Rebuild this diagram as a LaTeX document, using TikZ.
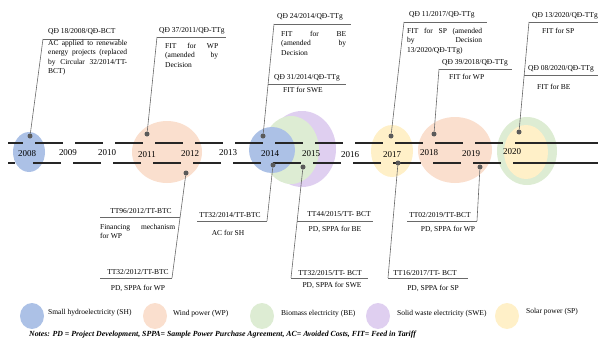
\documentclass[tikz,border=0pt]{standalone}
\usepackage{fontspec}
\setmainfont{Liberation Serif}
\usepackage{xcolor}
\usepackage{tikz}

\definecolor{shblue}{RGB}{172,193,230}
\definecolor{wporange}{RGB}{250,223,206}
\definecolor{begreen}{RGB}{221,236,211}
\definecolor{swepurple}{RGB}{223,207,240}
\definecolor{spyellow}{RGB}{255,240,200}
\definecolor{linkgray}{RGB}{105,105,105}
\definecolor{dotgray}{RGB}{90,90,90}

\tikzset{
  lawtitle/.style={font=\fontsize{7.5}{9.3}\selectfont, inner sep=0pt},
  lawbody/.style={font=\fontsize{7.5}{9.3}\selectfont, inner sep=0pt, align=justify},
  yearlabel/.style={font=\fontsize{9}{10}\selectfont, inner sep=0pt},
  lawrule/.style={draw=linkgray, line width=0.6pt},
  link/.style={draw=linkgray, line width=0.6pt},
  eventdot/.style={circle, fill=dotgray, inner sep=0pt, minimum size=5pt},
  timeline/.style={draw=black!85, line width=1.1pt},
}

\begin{document}
\begin{tikzpicture}[x=1pt, y=-1pt]
\useasboundingbox (0, 0) rectangle (598, 340);

% bubbles behind the time line
\fill [swepurple] (302, 149) ellipse [x radius=34pt, y radius=38pt];
\fill [begreen]   (291, 150) ellipse [x radius=28pt, y radius=34pt];
\fill [shblue]    (29, 152)  ellipse [x radius=16pt, y radius=20pt];
\fill [wporange]  (167, 152) ellipse [x radius=35pt, y radius=31pt];
\fill [shblue]    (272, 150) ellipse [x radius=23pt, y radius=23pt];
\fill [spyellow]  (392, 151) ellipse [x radius=21pt, y radius=26pt];
\fill [wporange]  (455, 150) ellipse [x radius=37pt, y radius=33pt];
\fill [begreen]   (527, 151) ellipse [x radius=30pt, y radius=34pt];
\fill [spyellow]  (526, 152) ellipse [x radius=22pt, y radius=27pt];

% time line
\draw [timeline, dash pattern=on 28pt off 12pt, dash phase=13pt] (8, 143) -- (515, 143);
\draw [timeline] (515, 143) -- (598, 143);
\draw [timeline] (8, 163) -- (15, 163);
\draw [timeline, dash pattern=on 28pt off 12pt] (33, 163) -- (517, 163);
\draw [timeline] (517, 163) -- (598, 163);

\node [yearlabel] (y2008) at (27, 154)  {2008};
\node [yearlabel] (y2009) at (68, 153)  {2009};
\node [yearlabel] (y2010) at (107, 153) {2010};
\node [yearlabel] (y2011) at (147, 155) {2011};
\node [yearlabel] (y2012) at (190, 154) {2012};
\node [yearlabel] (y2013) at (228, 153) {2013};
\node [yearlabel] (y2014) at (270, 154) {2014};
\node [yearlabel] (y2015) at (311, 154) {2015};
\node [yearlabel] (y2016) at (350, 155) {2016};
\node [yearlabel] (y2017) at (392, 155) {2017};
\node [yearlabel] (y2018) at (429, 153) {2018};
\node [yearlabel] (y2019) at (471, 154) {2019};
\node [yearlabel] (y2020) at (512, 152) {2020};

\node [eventdot] (d08)  at (30, 136)  {};
\node [eventdot] (d11)  at (147, 134) {};
\node [eventdot] (d12)  at (186, 173) {};
\node [eventdot] (d14u) at (263, 136) {};
\node [eventdot] (d14l) at (273, 165) {};
\node [eventdot] (d15)  at (303, 167) {};
\node [eventdot] (d17u) at (391, 136) {};
\node [eventdot] (d17l) at (398, 163) {};
\node [eventdot] (d18)  at (434, 134) {};
\node [eventdot] (d19)  at (480, 167) {};
\node [eventdot] (d20)  at (519, 132) {};

% decisions above the line
\coordinate (r08w) at (43, 39);
\coordinate (r08e) at (120, 39);
\draw [lawrule] (r08w) -- (r08e);
\node [lawtitle, anchor=west] (q08) at (48, 32) {QĐ 18/2008/QĐ-BCT};
\node [lawbody, anchor=north west, text width=79pt] (b08) at (48, 40)
  {AC applied to renewable\linebreak energy projects (replaced\linebreak by Circular 32/2014/TT-\linebreak BCT)};
\draw [link] (d08) -- (r08w);

\coordinate (r11w) at (157, 37);
\coordinate (r11e) at (226, 37);
\draw [lawrule] (r11w) -- (r11e);
\node [lawtitle, anchor=west] (q11) at (159, 31) {QĐ 37/2011/QĐ-TTg};
\node [lawbody, anchor=north west, text width=53pt] (b11) at (165, 43)
  {FIT for WP\linebreak (amended by\linebreak Decision};
\draw [link] (d11) -- (r11w);

\coordinate (r14aw) at (274, 24);
\coordinate (r14ae) at (351, 24);
\draw [lawrule] (r14aw) -- (r14ae);
\node [lawtitle, anchor=west] (q14a) at (277, 17) {QĐ 24/2014/QĐ-TTg};
\node [lawbody, anchor=north west, text width=65pt] (b14a) at (281, 31)
  {FIT for BE\linebreak (amended by\linebreak Decision};
\coordinate (r14bw) at (268, 84);
\coordinate (r14be) at (346, 84);
\draw [lawrule] (r14bw) -- (r14be);
\node [lawtitle, anchor=west] (q14b) at (274, 78) {QĐ 31/2014/QĐ-TTg};
\node [lawtitle, anchor=west] (b14b) at (283, 90) {FIT for SWE};
\draw [link] (d14u) -- (r14aw);

\coordinate (r17w) at (404, 22);
\coordinate (r17e) at (487, 22);
\draw [lawrule] (r17w) -- (r17e);
\node [lawtitle, anchor=west] (q17) at (409, 15) {QĐ 11/2017/QĐ-TTg};
\node [lawbody, anchor=north west, text width=75pt] (b17) at (407, 28)
  {FIT for SP (amended\linebreak by Decision\linebreak 13/2020/QĐ-TTg)};
\draw [link] (d17u) -- (r17w);

\coordinate (r18w) at (439, 69);
\coordinate (r18e) at (512, 69);
\draw [lawrule] (r18w) -- (r18e);
\node [lawtitle, anchor=west] (q18) at (442, 63) {QĐ 39/2018/QĐ-TTg};
\node [lawtitle, anchor=west] (b18) at (449, 77) {FIT for WP};
\draw [link] (d18) -- (r18w);

\coordinate (r20aw) at (529, 22);
\coordinate (r20ae) at (598, 22);
\draw [lawrule] (r20aw) -- (r20ae);
\node [lawtitle, anchor=west] (q20a) at (532, 16) {QĐ 13/2020/QĐ-TTg};
\node [lawtitle, anchor=west] (b20a) at (542, 31) {FIT for SP};
\coordinate (r20bw) at (524, 75);
\coordinate (r20be) at (598, 75);
\draw [lawrule] (r20bw) -- (r20be);
\node [lawtitle, anchor=west] (q20b) at (528, 69) {QĐ 08/2020/QĐ-TTg};
\node [lawtitle, anchor=west] (b20b) at (537, 87) {FIT for BE};
\draw [link] (d20) -- (r20aw);

% circulars below the line
\coordinate (t12aw) at (100, 217);
\coordinate (t12ae) at (180, 217);
\draw [lawrule] (t12aw) -- (t12ae);
\node [lawtitle] (c12a) at (141, 211) {TT96/2012/TT-BTC};
\node [lawbody, anchor=north west, text width=75pt] (e12a) at (100, 224)
  {Financing mechanism\linebreak for WP};
\coordinate (t12bw) at (100, 278);
\coordinate (t12be) at (172, 278);
\draw [lawrule] (t12bw) -- (t12be);
\node [lawtitle] (c12b) at (138, 272) {TT32/2012/TT-BTC};
\node [lawtitle] (e12b) at (138, 288) {PD, SPPA for WP};
\draw [link] (d12) -- (t12be);

\coordinate (t14w) at (197, 221);
\coordinate (t14e) at (267, 221);
\draw [lawrule] (t14w) -- (t14e);
\node [lawtitle] (c14) at (230, 215) {TT32/2014/TT-BTC};
\node [lawtitle] (e14) at (228, 233) {AC for SH};
\draw [link] (d14l) -- (t14e);

\coordinate (t15aw) at (297, 221);
\coordinate (t15ae) at (373, 221);
\draw [lawrule] (t15aw) -- (t15ae);
\node [lawtitle] (c15a) at (339, 214) {TT44/2015/TT- BCT};
\node [lawtitle] (e15a) at (335, 229) {PD, SPPA for BE};
\coordinate (t15bw) at (291, 278);
\coordinate (t15be) at (368, 278);
\draw [lawrule] (t15bw) -- (t15be);
\node [lawtitle] (c15b) at (330, 273) {TT32/2015/TT- BCT};
\node [lawtitle] (e15b) at (332, 285) {PD, SPPA for SWE};
\draw [link] (d15) -- (t15bw);

\coordinate (t17w) at (388, 278);
\coordinate (t17e) at (468, 278);
\draw [lawrule] (t17w) -- (t17e);
\node [lawtitle] (c17) at (425, 273) {TT16/2017/TT- BCT};
\node [lawtitle] (e17) at (433, 288) {PD, SPPA for SP};
\draw [link] (d17l) -- (t17w);

\coordinate (t19w) at (407, 221);
\coordinate (t19e) at (477, 221);
\draw [lawrule] (t19w) -- (t19e);
\node [lawtitle] (c19) at (440, 215) {TT02/2019/TT-BCT};
\node [lawtitle] (e19) at (448, 229) {PD, SPPA for WP};
\draw [link] (d19) -- (t19e);

% legend
\fill [shblue]    (32, 316)  ellipse [x radius=12pt, y radius=13pt];
\node [lawtitle, anchor=west] (lsh) at (48, 313) {Small hydroelectricity (SH)};
\fill [wporange]  (155, 316) ellipse [x radius=12pt, y radius=13pt];
\node [lawtitle, anchor=west] (lwp) at (173, 314) {Wind power (WP)};
\fill [begreen]   (262, 316) ellipse [x radius=12pt, y radius=13pt];
\node [lawtitle, anchor=west] (lbe) at (281, 314) {Biomass electricity (BE)};
\fill [swepurple] (378, 316) ellipse [x radius=12pt, y radius=13pt];
\node [lawtitle, anchor=west] (lswe) at (397, 314) {Solid waste electricity (SWE)};
\fill [spyellow]  (507, 316) ellipse [x radius=12pt, y radius=13pt];
\node [lawtitle, anchor=west] (lsp) at (526, 312) {Solar power (SP)};

\node [font=\fontsize{7.8}{9}\selectfont\bfseries\itshape, inner sep=0pt, anchor=west] (notes) at (29, 335)
  {Notes: PD = Project Development, SPPA= Sample Power Purchase Agreement, AC= Avoided Costs, FIT= Feed in Tariff};
\end{tikzpicture}
\end{document}
